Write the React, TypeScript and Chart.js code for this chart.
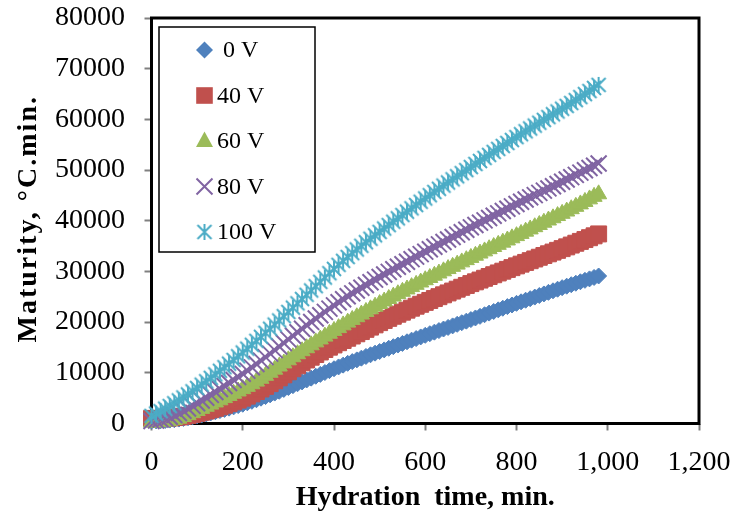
import React, { useEffect, useRef } from "react";
import { Chart, registerables } from "chart.js";

Chart.register(...registerables);

// Hydration time, min.
const TIME = [
  0, 10, 20, 30, 40, 50, 60, 70, 80, 90,
  100, 110, 120, 130, 140, 150, 160, 170, 180, 190,
  200, 210, 220, 230, 240, 250, 260, 270, 280, 290,
  300, 310, 320, 330, 340, 350, 360, 370, 380, 390,
  400, 410, 420, 430, 440, 450, 460, 470, 480, 490,
  500, 510, 520, 530, 540, 550, 560, 570, 580, 590,
  600, 610, 620, 630, 640, 650, 660, 670, 680, 690,
  700, 710, 720, 730, 740, 750, 760, 770, 780, 790,
  800, 810, 820, 830, 840, 850, 860, 870, 880, 890,
  900, 910, 920, 930, 940, 950, 960, 970, 980,
];

// Maturity, °C.min.
const V0 = [
  500, 520, 550, 600, 670, 760, 870, 1000, 1150, 1320,
  1500, 1690, 1890, 2100, 2320, 2550, 2785, 3030, 3280, 3535,
  3800, 4080, 4375, 4680, 4995, 5320, 5655, 6000, 6360, 6725,
  7100, 7470, 7840, 8210, 8580, 8950, 9320, 9690, 10060, 10430,
  10800, 11160, 11515, 11865, 12210, 12550, 12890, 13225, 13555, 13880,
  14200, 14520, 14840, 15160, 15480, 15800, 16120, 16440, 16760, 17080,
  17400, 17710, 18020, 18330, 18640, 18950, 19260, 19570, 19880, 20190,
  20500, 20820, 21140, 21460, 21780, 22100, 22420, 22740, 23060, 23380,
  23700, 24010, 24320, 24630, 24940, 25250, 25560, 25870, 26180, 26490,
  26800, 27090, 27380, 27670, 27960, 28245, 28530, 28815, 29100,
];

const V40 = [
  1000, 1000, 1010, 1040, 1090, 1170, 1280, 1420, 1590, 1790,
  2000, 2220, 2460, 2720, 3000, 3300, 3610, 3930, 4270, 4620,
  5000, 5400, 5840, 6310, 6810, 7330, 7870, 8430, 9010, 9600,
  10200, 10800, 11390, 11970, 12535, 13080, 13605, 14110, 14595, 15060,
  15500, 15940, 16380, 16820, 17260, 17700, 18140, 18580, 19020, 19460,
  19900, 20330, 20750, 21160, 21560, 21960, 22360, 22750, 23140, 23520,
  23900, 24275, 24650, 25020, 25390, 25760, 26130, 26500, 26870, 27235,
  27600, 27950, 28300, 28650, 29000, 29350, 29700, 30050, 30400, 30750,
  31100, 31440, 31780, 32120, 32460, 32800, 33140, 33480, 33820, 34160,
  34500, 34850, 35205, 35565, 35925, 36290, 36655, 37025, 37400,
];

const V60 = [
  200, 220, 280, 380, 530, 730, 990, 1310, 1670, 2070,
  2500, 2920, 3340, 3760, 4185, 4610, 5040, 5470, 5905, 6350,
  6800, 7270, 7770, 8300, 8860, 9440, 10040, 10650, 11270, 11880,
  12500, 13100, 13700, 14290, 14880, 15460, 16040, 16610, 17180, 17740,
  18300, 18850, 19395, 19935, 20470, 21000, 21525, 22045, 22565, 23080,
  23600, 24100, 24590, 25070, 25545, 26015, 26480, 26940, 27395, 27845,
  28300, 28740, 29180, 29620, 30060, 30500, 30940, 31380, 31820, 32260,
  32700, 33130, 33560, 33990, 34420, 34850, 35280, 35710, 36140, 36570,
  37000, 37440, 37880, 38320, 38760, 39200, 39640, 40080, 40520, 40960,
  41400, 41850, 42310, 42780, 43260, 43750, 44250, 44750, 45250,
];

const V80 = [
  500, 600, 780, 1030, 1330, 1680, 2070, 2500, 2970, 3470,
  4000, 4540, 5090, 5650, 6220, 6800, 7385, 7980, 8580, 9185,
  9800, 10430, 11080, 11740, 12410, 13090, 13780, 14480, 15180, 15890,
  16600, 17300, 18000, 18690, 19370, 20040, 20710, 21370, 22020, 22660,
  23300, 23920, 24520, 25110, 25680, 26240, 26790, 27330, 27860, 28380,
  28900, 29410, 29920, 30425, 30925, 31425, 31925, 32420, 32915, 33410,
  33900, 34380, 34860, 35340, 35820, 36300, 36780, 37260, 37740, 38220,
  38700, 39160, 39620, 40080, 40540, 41000, 41460, 41920, 42380, 42840,
  43300, 43740, 44180, 44620, 45060, 45500, 45940, 46380, 46820, 47260,
  47700, 48150, 48600, 49050, 49500, 49950, 50400, 50850, 51300,
];

const V100 = [
  1500, 1950, 2430, 2930, 3450, 3990, 4550, 5130, 5730, 6350,
  7000, 7660, 8330, 9010, 9700, 10400, 11100, 11810, 12530, 13260,
  14000, 14760, 15530, 16310, 17100, 17900, 18700, 19510, 20330, 21160,
  22000, 22850, 23700, 24550, 25400, 26250, 27100, 27950, 28800, 29650,
  30500, 31300, 32090, 32860, 33610, 34340, 35060, 35760, 36450, 37130,
  37800, 38470, 39140, 39805, 40470, 41130, 41790, 42445, 43100, 43750,
  44400, 45040, 45675, 46305, 46930, 47550, 48165, 48775, 49385, 49995,
  50600, 51200, 51800, 52395, 52990, 53580, 54170, 54755, 55340, 55920,
  56500, 57075, 57645, 58210, 58775, 59335, 59895, 60450, 61005, 61555,
  62100, 62660, 63230, 63810, 64400, 64990, 65590, 66190, 66800,
];

const SERIES_LABELS = [" 0 V", "40 V", "60 V", "80 V", "100 V"];
const SERIES_VALUES = [V0, V40, V60, V80, V100];

const X_TICKS = [0, 200, 400, 600, 800, 1000, 1200];
const Y_TICKS = [0, 10000, 20000, 30000, 40000, 50000, 60000, 70000, 80000];

const X_TITLE = "Hydration  time, min.";
const Y_TITLE = "Maturity, °C.min.";

const COLORS = ["#4F81BD", "#C0504D", "#9BBB59", "#8064A2", "#4BACC6"];
const FONT = "'Liberation Serif', 'Times New Roman', serif";

function makeStar(color: string): HTMLCanvasElement {
  const c = document.createElement("canvas");
  c.width = 18;
  c.height = 18;
  const g = c.getContext("2d")!;
  g.strokeStyle = color;
  g.lineWidth = 2;
  g.lineCap = "butt";
  g.beginPath();
  g.moveTo(2, 2);
  g.lineTo(16, 16);
  g.moveTo(16, 2);
  g.lineTo(2, 16);
  g.moveTo(9, 1);
  g.lineTo(9, 17);
  g.stroke();
  return c;
}

function zeroPad(scale: any) {
  scale.paddingTop = 0;
  scale.paddingBottom = 0;
  scale.paddingLeft = 0;
  scale.paddingRight = 0;
}

export default function App() {
  const ref = useRef<HTMLCanvasElement | null>(null);

  useEffect(() => {
    const canvas = ref.current;
    if (!canvas) return;
    const star = makeStar(COLORS[4]);

    const styles: any[] = [
      { pointStyle: "rectRot", pointRadius: 8, pointBorderWidth: 1 },
      { pointStyle: "rect", pointRadius: 11.3, pointBorderWidth: 1 },
      { pointStyle: "triangle", pointRadius: 9.3, pointBorderWidth: 1 },
      { pointStyle: "crossRot", pointRadius: 11.3, pointBorderWidth: 2 },
      { pointStyle: star, pointRadius: 9, pointBorderWidth: 2 },
    ];

    const datasets = SERIES_VALUES.map((vals, si) => ({
      label: SERIES_LABELS[si],
      data: TIME.map((t, i) => ({ x: t, y: vals[i] })),
      showLine: false,
      backgroundColor: COLORS[si],
      borderColor: COLORS[si],
      pointBackgroundColor: COLORS[si],
      pointBorderColor: COLORS[si],
      ...styles[si],
      pointHoverRadius: styles[si].pointRadius,
      clip: false as any,
      order: SERIES_VALUES.length - si,
    }));

    const framePlugin = {
      id: "frame",
      beforeDatasetsDraw(chart: any) {
        const { ctx, chartArea } = chart;
        ctx.save();
        ctx.strokeStyle = "#000";
        ctx.lineWidth = 3;
        ctx.strokeRect(chartArea.left, chartArea.top, chartArea.right - chartArea.left, chartArea.bottom - chartArea.top);
        ctx.restore();
      },
    };

    const yTitlePlugin = {
      id: "yTitle",
      afterDraw(chart: any) {
        const { ctx, chartArea } = chart;
        ctx.save();
        ctx.translate(28.5, (chartArea.top + chartArea.bottom) / 2 - 2);
        ctx.rotate(-Math.PI / 2);
        ctx.fillStyle = "#000";
        ctx.font = `bold 28px ${FONT}`;
        ctx.textAlign = "center";
        ctx.textBaseline = "middle";
        try {
          (ctx as any).letterSpacing = "2px";
        } catch (e) {
          /* ignore */
        }
        ctx.fillText(Y_TITLE, 0, 0);
        ctx.restore();
      },
    };

    const legendPlugin = {
      id: "boxLegend",
      afterDatasetsDraw(chart: any) {
        const { ctx, chartArea } = chart;
        const bx = chartArea.left + 7.5;
        const by = chartArea.top + 9;
        const bw = 156;
        const bh = 225;
        ctx.save();
        ctx.fillStyle = "#fff";
        ctx.fillRect(bx, by, bw, bh);
        ctx.strokeStyle = "#000";
        ctx.lineWidth = 1.5;
        ctx.strokeRect(bx, by, bw, bh);
        const ds = chart.data.datasets;
        for (let i = 0; i < ds.length; i++) {
          const cy = by + 23 + i * 45.5;
          const cx = bx + 45.5;
          const col = COLORS[i];
          ctx.fillStyle = col;
          ctx.strokeStyle = col;
          ctx.lineWidth = 1;
          ctx.beginPath();
          if (i === 0) {
            ctx.moveTo(cx, cy - 8.5);
            ctx.lineTo(cx + 8.5, cy);
            ctx.lineTo(cx, cy + 8.5);
            ctx.lineTo(cx - 8.5, cy);
            ctx.closePath();
            ctx.fill();
          } else if (i === 1) {
            ctx.rect(cx - 8.3, cy - 8.3, 16.6, 16.6);
            ctx.fill();
          } else if (i === 2) {
            ctx.moveTo(cx, cy - 9.5);
            ctx.lineTo(cx + 8.5, cy + 6);
            ctx.lineTo(cx - 8.5, cy + 6);
            ctx.closePath();
            ctx.fill();
          } else if (i === 3) {
            ctx.lineWidth = 2;
            ctx.moveTo(cx - 8, cy - 8);
            ctx.lineTo(cx + 8, cy + 8);
            ctx.moveTo(cx + 8, cy - 8);
            ctx.lineTo(cx - 8, cy + 8);
            ctx.stroke();
          } else {
            ctx.drawImage(star, cx - 9, cy - 9);
          }
          ctx.fillStyle = "#000";
          ctx.font = `24px ${FONT}`;
          ctx.textAlign = "left";
          ctx.textBaseline = "middle";
          ctx.fillText(ds[i].label, bx + 58, cy + 1);
        }
        ctx.restore();
      },
    };

    const chart = new Chart(canvas, {
      type: "scatter",
      data: { datasets: datasets as any },
      plugins: [framePlugin, legendPlugin, yTitlePlugin],
      options: {
        animation: false,
        responsive: false,
        devicePixelRatio: 1,
        events: [],
        layout: { padding: { left: 0, right: 41, top: 18, bottom: 0 } },
        plugins: {
          legend: { display: false },
          tooltip: { enabled: false },
        },
        scales: {
          x: {
            type: "linear",
            min: X_TICKS[0],
            max: X_TICKS[X_TICKS.length - 1],
            afterFit(scale: any) {
              scale.height = 93.5;
              zeroPad(scale);
            },
            afterBuildTicks(scale: any) {
              scale.ticks = X_TICKS.map((v) => ({ value: v }));
            },
            border: { display: false },
            grid: {
              drawOnChartArea: false,
              drawTicks: true,
              tickLength: 7,
              tickColor: "#808080",
              tickWidth: 2,
            },
            ticks: {
              autoSkip: false,
              maxRotation: 0,
              padding: 15.5,
              color: "#000",
              font: { family: FONT, size: 28 },
              callback: (v: any) => Number(v).toLocaleString("en-US"),
            },
            title: {
              display: true,
              text: X_TITLE,
              color: "#000",
              font: { family: FONT, size: 28, weight: "bold" },
              padding: { top: 0, bottom: 2 },
            },
          },
          y: {
            type: "linear",
            min: Y_TICKS[0],
            max: Y_TICKS[Y_TICKS.length - 1],
            afterFit(scale: any) {
              scale.width = 151.5;
              zeroPad(scale);
            },
            afterBuildTicks(scale: any) {
              scale.ticks = Y_TICKS.map((v) => ({ value: v }));
            },
            border: { display: false },
            grid: {
              drawOnChartArea: false,
              drawTicks: true,
              tickLength: 7,
              tickColor: "#808080",
              tickWidth: 2,
            },
            ticks: {
              padding: 19.5,
              color: "#000",
              font: { family: FONT, size: 28 },
              callback: (v: any) => String(v),
            },
            title: { display: false },
          },
        },
      },
    });

    return () => chart.destroy();
  }, []);

  return (
    <div style={{ position: "absolute", left: 0, top: 0, width: 740, height: 517, background: "#fff" }}>
      <canvas ref={ref} width={740} height={517} style={{ display: "block", width: 740, height: 517 }} />
    </div>
  );
}
